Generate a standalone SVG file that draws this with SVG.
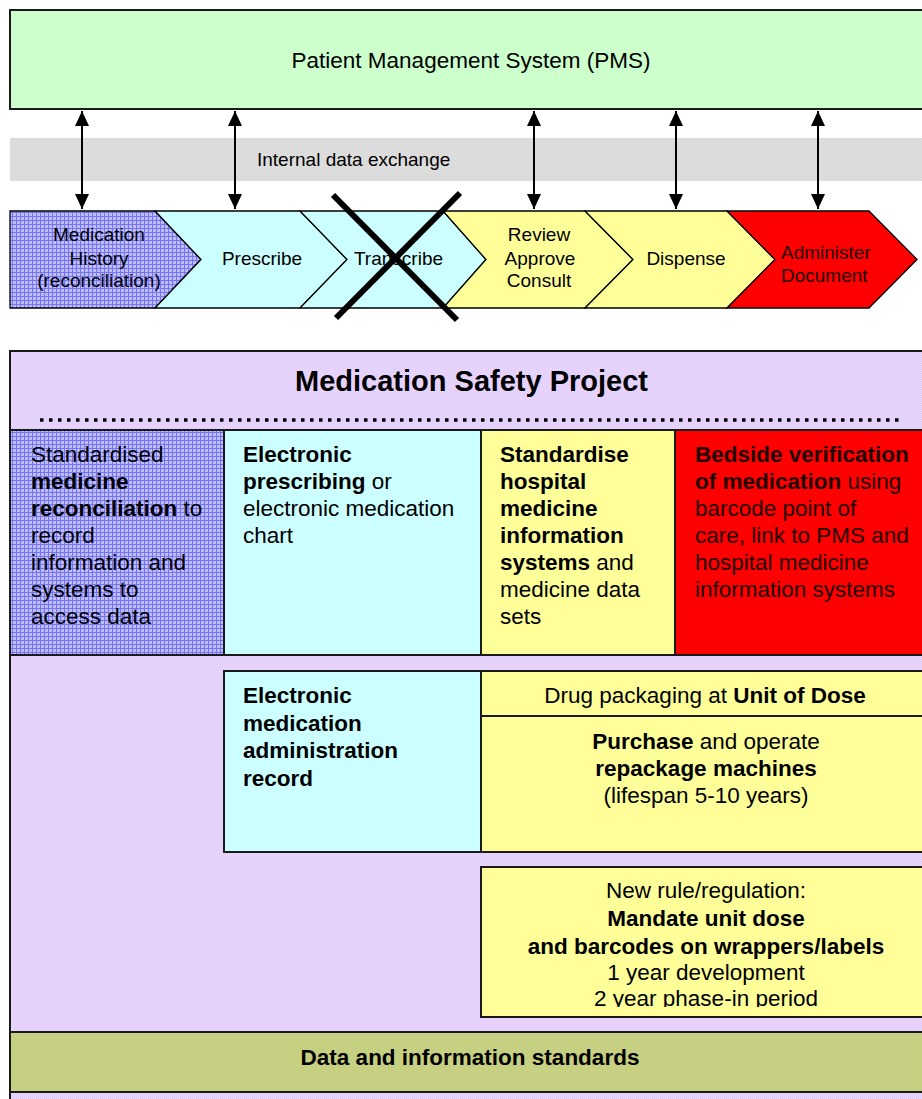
<svg xmlns="http://www.w3.org/2000/svg" width="922" height="1099" viewBox="0 0 922 1099">
<defs>
<pattern id="pBlue" width="4" height="4" patternUnits="userSpaceOnUse">
<rect width="4" height="4" fill="#bcbcff"/>
<rect width="4" height="1" fill="#7474f0"/>
<rect width="1" height="4" fill="#7474f0"/>
</pattern>
<pattern id="pLav" width="2" height="2" patternUnits="userSpaceOnUse">
<rect width="2" height="2" fill="#ecdcff"/>
<rect width="1" height="1" fill="#dfc8fc"/>
<rect x="1" y="1" width="1" height="1" fill="#dfc8fc"/>
</pattern>
<pattern id="pGrey" width="2" height="2" patternUnits="userSpaceOnUse">
<rect width="2" height="2" fill="#e2e2e2"/>
<rect width="1" height="1" fill="#d6d6d6"/>
<rect x="1" y="1" width="1" height="1" fill="#d6d6d6"/>
</pattern>
<pattern id="pOlive" width="2" height="2" patternUnits="userSpaceOnUse">
<rect width="2" height="2" fill="#cdd68a"/>
<rect width="1" height="1" fill="#bfca78"/>
<rect x="1" y="1" width="1" height="1" fill="#bfca78"/>
</pattern>
<marker id="ah" viewBox="0 0 15 14" refX="15" refY="7" markerWidth="15" markerHeight="14" markerUnits="userSpaceOnUse" orient="auto-start-reverse">
<path d="M0,0 L15,7 L0,14 z" fill="#000"/>
</marker>
<clipPath id="clipRule"><rect x="481" y="867" width="460" height="140"/></clipPath>
</defs>
<style>
text{font-family:"Liberation Sans",Arial,Helvetica,sans-serif;fill:#000}
.box{stroke:#1a1a1a;stroke-width:2}
.chev{stroke:#000;stroke-width:1.3}
.c19{font-size:19px}
.c22{font-size:22.5px}
.b{font-weight:bold}
.mid{text-anchor:middle}
.dark{fill:#220000}
.arrow{stroke:#000;stroke-width:2;fill:none;marker-start:url(#ah);marker-end:url(#ah)}
</style>

<g id="pms">
<rect class="box" x="10" y="10" width="930" height="99" fill="#ccffcc"/>
<text class="c22 mid" x="471" y="68">Patient Management System (PMS)</text>
</g>

<g id="internal-exchange">
<rect x="10" y="138" width="912" height="43" fill="url(#pGrey)"/>
<text class="c19" x="257" y="166">Internal data exchange</text>
</g>

<g id="step-history">
<polygon class="chev" points="10,211 155,211 201,259.5 155,308 10,308" fill="url(#pBlue)"/>
<text class="c19 mid" x="99" y="241">Medication</text>
<text class="c19 mid" x="99" y="264.5">History</text>
<text class="c19 mid" x="99" y="287">(reconciliation)</text>
</g>
<g id="step-prescribe">
<polygon class="chev" points="155,211 300,211 347,259.5 300,308 155,308 201,259.5" fill="#ccffff"/>
<text class="c19 mid" x="262" y="265">Prescribe</text>
</g>
<g id="step-transcribe">
<polygon class="chev" points="300,211 443,211 486,259.5 443,308 300,308 347,259.5" fill="#ccffff"/>
<text class="c19 mid" x="398.5" y="265">Transcribe</text>
</g>
<g id="step-review">
<polygon class="chev" points="443,211 585,211 633,259.5 585,308 443,308 486,259.5" fill="#ffff99"/>
<text class="c19 mid" x="539" y="241">Review</text>
<text class="c19 mid" x="540" y="264.5">Approve</text>
<text class="c19 mid" x="539" y="287">Consult</text>
</g>
<g id="step-dispense">
<polygon class="chev" points="585,211 727,211 775,259.5 727,308 585,308 633,259.5" fill="#ffff99"/>
<text class="c19 mid" x="686" y="265">Dispense</text>
</g>
<g id="step-administer">
<polygon class="chev" points="727,211 869,211 917,259.5 869,308 727,308 775,259.5" fill="#ff0000"/>
<text class="c19 dark" x="781" y="259">Administer</text>
<text class="c19 dark" x="781" y="282">Document</text>
</g>

<g id="cross-out">
<line x1="333" y1="195" x2="457" y2="320" stroke="#000" stroke-width="6"/>
<line x1="460" y1="193" x2="336" y2="318" stroke="#000" stroke-width="6"/>
</g>

<g id="connectors">
<line class="arrow" x1="82" y1="111" x2="82" y2="209"/>
<line class="arrow" x1="235" y1="111" x2="235" y2="209"/>
<line class="arrow" x1="534" y1="111" x2="534" y2="209"/>
<line class="arrow" x1="676" y1="111" x2="676" y2="209"/>
<line class="arrow" x1="818" y1="111" x2="818" y2="209"/>
</g>

<g id="msp">
<rect class="box" x="10" y="351" width="930" height="760" fill="url(#pLav)"/>
<text class="b mid" x="471.5" y="391" style="font-size:29px">Medication Safety Project</text>
<line x1="40" y1="420" x2="904" y2="420" stroke="#000" stroke-width="3.5" stroke-dasharray="3.5 5.5"/>
</g>

<g id="cell-reconciliation">
<rect class="box" x="10" y="430" width="214" height="225" fill="url(#pBlue)"/>
<text class="c22" x="31" y="461.5">Standardised</text>
<text class="c22 b" x="31" y="488.5">medicine</text>
<text class="c22" x="31" y="515.5"><tspan class="b">reconciliation</tspan> to</text>
<text class="c22" x="31" y="542.5">record</text>
<text class="c22" x="31" y="569.5">information and</text>
<text class="c22" x="31" y="596.5">systems to</text>
<text class="c22" x="31" y="623.5">access data</text>
</g>

<g id="cell-eprescribing">
<rect class="box" x="224" y="430" width="257" height="225" fill="#ccffff"/>
<text class="c22 b" x="243" y="461.5">Electronic</text>
<text class="c22" x="243" y="488.5"><tspan class="b">prescribing</tspan> or</text>
<text class="c22" x="243" y="515.5">electronic medication</text>
<text class="c22" x="243" y="542.5">chart</text>
</g>

<g id="cell-standardise">
<rect class="box" x="481" y="430" width="194" height="225" fill="#ffff99"/>
<text class="c22 b" x="500" y="461.5">Standardise</text>
<text class="c22 b" x="500" y="488.5">hospital</text>
<text class="c22 b" x="500" y="515.5">medicine</text>
<text class="c22 b" x="500" y="542.5">information</text>
<text class="c22" x="500" y="569.5"><tspan class="b">systems</tspan> and</text>
<text class="c22" x="500" y="596.5">medicine data</text>
<text class="c22" x="500" y="623.5">sets</text>
</g>

<g id="cell-bedside">
<rect class="box" x="675" y="430" width="265" height="225" fill="#ff0000"/>
<text class="c22 b dark" x="695" y="461.5">Bedside verification</text>
<text class="c22 dark" x="695" y="488.5"><tspan class="b">of medication</tspan> using</text>
<text class="c22 dark" x="695" y="515.5">barcode point of</text>
<text class="c22 dark" x="695" y="542.5">care, link to PMS and</text>
<text class="c22 dark" x="695" y="569.5">hospital medicine</text>
<text class="c22 dark" x="695" y="596.5">information systems</text>
</g>

<g id="cell-emar">
<rect class="box" x="224" y="671" width="257" height="181" fill="#ccffff"/>
<text class="c22 b" x="243" y="703">Electronic</text>
<text class="c22 b" x="243" y="730.5">medication</text>
<text class="c22 b" x="243" y="758">administration</text>
<text class="c22 b" x="243" y="785.5">record</text>
</g>

<g id="cell-unit-dose">
<rect class="box" x="481" y="671" width="459" height="45" fill="#ffff99"/>
<text class="c22 mid" x="705" y="703">Drug packaging at <tspan class="b">Unit of Dose</tspan></text>
</g>

<g id="cell-repackage">
<rect class="box" x="481" y="716" width="459" height="136" fill="#ffff99"/>
<text class="c22 mid" x="706" y="749"><tspan class="b">Purchase</tspan> and operate</text>
<text class="c22 b mid" x="706" y="776">repackage machines</text>
<text class="c22 mid" x="706" y="802.5">(lifespan 5-10 years)</text>
</g>

<g id="cell-regulation">
<rect class="box" x="481" y="867" width="459" height="150" fill="#ffff99"/>
<g clip-path="url(#clipRule)">
<text class="c22 mid" x="706" y="898">New rule/regulation:</text>
<text class="c22 b mid" x="706" y="926">Mandate unit dose</text>
<text class="c22 b mid" x="706" y="954">and barcodes on wrappers/labels</text>
<text class="c22 mid" x="706" y="980">1 year development</text>
<text class="c22 mid" x="706" y="1006">2 year phase-in period</text>
</g>
</g>

<g id="data-standards">
<rect class="box" x="10" y="1032" width="930" height="60" fill="url(#pOlive)"/>
<text class="c22 b mid" x="470" y="1065">Data and information standards</text>
</g>
</svg>
